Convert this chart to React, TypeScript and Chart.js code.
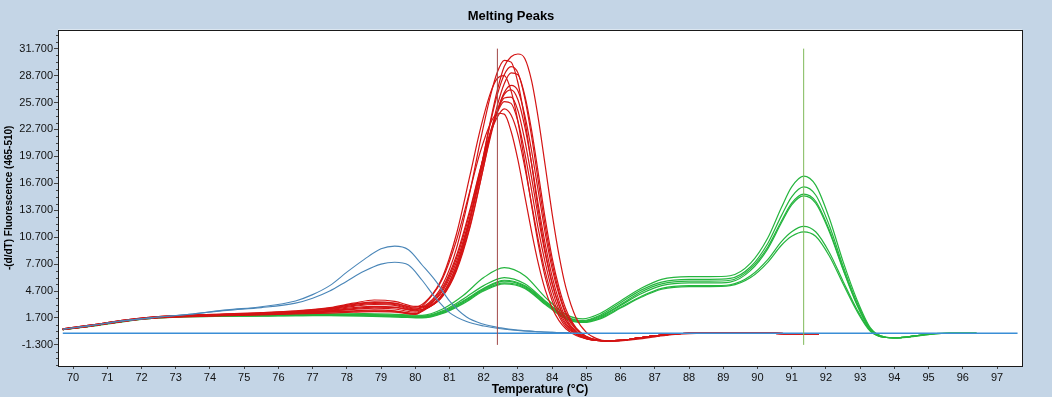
import React, { useEffect, useRef } from "react";
import { Chart, registerables } from "chart.js";

Chart.register(...registerables);

const TITLE = "Melting Peaks";
const X_TITLE = "Temperature (°C)";
const Y_TITLE = "-(d/dT) Fluorescence (465-510)";

const X_TICKS = [70, 71, 72, 73, 74, 75, 76, 77, 78, 79, 80, 81, 82, 83, 84, 85, 86, 87, 88, 89, 90, 91, 92, 93, 94, 95, 96, 97];
const Y_TICKS = [-1.3, 1.7, 4.7, 7.7, 10.7, 13.7, 16.7, 19.7, 22.7, 25.7, 28.7, 31.7];

const markerTemps = [82.4, 91.35];
const markerRange = [-1.3, 31.7];

const baselineTemps = [69.7, 97.6];
const baselineValues = [0, 0];

// red sample set (peak near 82.4-83.1 °C)
const redTemps = [69.7, 70.5, 71.5, 72.5, 73.5, 74.5, 75.5, 76.5, 77.5, 78.2, 78.8, 79.4, 80.0, 80.4, 80.8, 81.2, 81.6, 81.9, 82.2, 82.4, 82.6, 82.8, 83.0, 83.2, 83.4, 83.6, 83.8, 84.0, 84.2, 84.4, 84.7, 85.0, 85.3, 85.6, 86.0, 86.5, 87.0, 87.5, 88.0, 89.0, 90.0, 91.0, 91.8];
const red1 = [0.45, 0.85, 1.4, 1.8, 2.0, 2.1, 2.2, 2.4, 2.65, 3.0, 3.2, 3.1, 2.6, 2.9, 4.2, 7.2, 12.5, 17.9, 23.7, 27.1, 29.7, 30.8, 31.1, 30.6, 28.1, 23.8, 18.6, 13.3, 8.7, 5.1, 1.7, 0.1, -0.6, -0.85, -0.85, -0.65, -0.4, -0.15, -0.05, 0, 0, -0.05, -0.05];
const red2 = [0.5, 0.9, 1.45, 1.85, 2.0, 2.1, 2.25, 2.45, 2.8, 3.25, 3.5, 3.35, 2.8, 3.4, 5.4, 9.4, 15.8, 21.4, 26.5, 29.1, 30.4, 30.2, 27.9, 23.8, 18.8, 13.6, 9.1, 5.6, 3.1, 1.4, 0.1, -0.55, -0.8, -0.85, -0.8, -0.55, -0.3, -0.1, 0, 0, 0, -0.05, -0.05];
const red3 = [0.45, 0.8, 1.35, 1.75, 1.95, 2.05, 2.15, 2.3, 2.45, 2.65, 2.8, 2.7, 2.35, 3.0, 4.4, 7.5, 12.8, 18.1, 23.5, 26.6, 28.8, 29.7, 29.0, 26.2, 21.9, 16.8, 11.9, 7.8, 4.6, 2.3, 0.5, -0.4, -0.75, -0.85, -0.8, -0.55, -0.3, -0.1, 0, 0, 0, -0.05, -0.05];
const red4 = [0.4, 0.85, 1.4, 1.8, 1.95, 2.05, 2.15, 2.35, 2.55, 2.85, 3.0, 2.9, 2.5, 2.9, 4.1, 6.9, 11.8, 16.8, 22.2, 25.4, 27.8, 29.0, 28.8, 26.5, 22.6, 17.7, 12.7, 8.4, 5.1, 2.7, 0.6, -0.35, -0.75, -0.85, -0.8, -0.55, -0.3, -0.1, 0, 0, 0, -0.05, -0.05];
const red5 = [0.45, 0.8, 1.35, 1.75, 1.9, 2.0, 2.1, 2.25, 2.4, 2.5, 2.6, 2.5, 2.2, 2.9, 4.2, 7.1, 12.0, 16.9, 21.9, 24.8, 26.8, 27.6, 27.0, 24.3, 20.3, 15.7, 11.1, 7.2, 4.3, 2.1, 0.4, -0.4, -0.75, -0.85, -0.8, -0.55, -0.3, -0.1, 0, 0, 0, -0.05, -0.05];
const red6 = [0.5, 0.9, 1.45, 1.85, 2.05, 2.15, 2.3, 2.5, 2.85, 3.35, 3.7, 3.55, 3.0, 3.0, 4.4, 7.5, 12.6, 17.4, 22.2, 24.8, 26.6, 27.1, 26.0, 23.0, 18.9, 14.2, 9.9, 6.3, 3.6, 1.7, 0.2, -0.5, -0.8, -0.85, -0.8, -0.55, -0.3, -0.1, 0, 0, 0, -0.05, -0.05];
const red7 = [0.4, 0.8, 1.35, 1.75, 1.9, 2.0, 2.1, 2.2, 2.35, 2.45, 2.5, 2.45, 2.15, 3.1, 4.7, 7.9, 13.0, 17.8, 22.3, 24.7, 26.2, 26.3, 24.8, 21.5, 17.3, 12.8, 8.8, 5.5, 3.1, 1.4, 0.1, -0.55, -0.8, -0.85, -0.8, -0.55, -0.3, -0.1, 0, 0, 0, -0.05, -0.05];
const red8 = [0.45, 0.85, 1.4, 1.8, 2.0, 2.1, 2.2, 2.4, 2.7, 3.1, 3.3, 3.2, 2.7, 3.2, 4.9, 8.3, 13.5, 18.2, 22.5, 24.6, 25.8, 25.6, 23.6, 20.1, 15.9, 11.5, 7.8, 4.8, 2.6, 1.1, 0.0, -0.6, -0.8, -0.85, -0.8, -0.55, -0.3, -0.1, 0, 0, 0, -0.05, -0.05];
const red9 = [0.4, 0.8, 1.35, 1.7, 1.85, 1.95, 2.05, 2.15, 2.25, 2.35, 2.4, 2.35, 2.1, 3.3, 5.1, 8.6, 13.8, 18.3, 22.3, 24.1, 25.0, 24.3, 22.1, 18.5, 14.4, 10.3, 6.8, 4.1, 2.2, 0.9, -0.1, -0.6, -0.8, -0.85, -0.8, -0.55, -0.3, -0.1, 0, 0, 0, -0.05, -0.05];
const red10 = [0.45, 0.85, 1.4, 1.8, 1.95, 2.05, 2.15, 2.3, 2.5, 2.75, 2.9, 2.85, 2.6, 3.8, 6.1, 10.3, 15.9, 20.2, 23.4, 24.5, 24.4, 22.5, 19.3, 15.3, 11.3, 7.7, 4.8, 2.8, 1.4, 0.5, -0.25, -0.6, -0.8, -0.85, -0.8, -0.55, -0.3, -0.1, 0, 0, 0, -0.05, -0.05];
const red11 = [0.5, 0.9, 1.45, 1.85, 2.0, 2.1, 2.2, 2.4, 2.75, 3.2, 3.4, 3.3, 2.9, 3.9, 6.3, 11.0, 17.6, 22.7, 26.8, 28.4, 28.7, 27.0, 23.6, 19.0, 14.2, 9.8, 6.2, 3.6, 1.9, 0.7, -0.1, -0.6, -0.8, -0.85, -0.8, -0.55, -0.3, -0.1, 0, 0, 0, -0.05, -0.05];

// green sample set (peaks near 82.6 and 91.35 °C)
const greenTemps = [69.7, 70.5, 71.5, 72.5, 73.5, 74.5, 75.5, 76.5, 77.5, 78.5, 79.5, 80.2, 80.8, 81.4, 82.0, 82.6, 83.2, 83.8, 84.4, 84.9, 85.4, 86.0, 86.6, 87.2, 88.0, 88.6, 89.2, 89.8, 90.3, 90.7, 91.0, 91.35, 91.7, 92.1, 92.5, 92.9, 93.3, 93.7, 94.1, 94.6, 95.1, 95.6, 96.4];
const green1 = [0.45, 0.85, 1.4, 1.8, 1.95, 2.0, 2.05, 2.1, 2.15, 2.2, 2.1, 2.0, 2.7, 4.2, 6.2, 7.3, 6.4, 4.0, 2.1, 1.6, 2.2, 3.6, 5.0, 6.0, 6.3, 6.3, 6.4, 7.8, 10.6, 14.0, 16.3, 17.5, 16.5, 12.8, 8.0, 3.8, 0.6, -0.4, -0.55, -0.35, -0.1, 0.0, 0.0];
const green2 = [0.4, 0.8, 1.35, 1.75, 1.9, 1.95, 2.0, 2.05, 2.1, 2.1, 2.0, 1.9, 2.5, 3.8, 5.3, 6.2, 5.5, 3.6, 1.9, 1.4, 2.0, 3.4, 4.8, 5.7, 6.0, 6.0, 6.1, 7.4, 10.0, 13.1, 15.2, 16.3, 15.4, 12.0, 7.5, 3.5, 0.5, -0.4, -0.5, -0.3, -0.1, 0.0, 0.0];
const green3 = [0.45, 0.85, 1.4, 1.75, 1.9, 1.95, 2.0, 2.0, 2.05, 2.05, 1.95, 1.85, 2.4, 3.6, 5.0, 5.9, 5.3, 3.5, 1.8, 1.35, 1.9, 3.2, 4.6, 5.5, 5.8, 5.8, 5.9, 7.2, 9.6, 12.5, 14.5, 15.5, 14.7, 11.5, 7.2, 3.3, 0.4, -0.45, -0.5, -0.3, -0.05, 0.0, 0.0];
const green4 = [0.4, 0.8, 1.35, 1.7, 1.85, 1.9, 1.95, 1.95, 2.0, 2.0, 1.9, 1.8, 2.3, 3.4, 4.8, 5.6, 5.1, 3.3, 1.7, 1.3, 1.8, 3.1, 4.4, 5.3, 5.6, 5.6, 5.7, 7.0, 9.4, 12.3, 14.3, 15.3, 14.5, 11.3, 7.1, 3.2, 0.4, -0.45, -0.5, -0.3, -0.05, 0.0, 0.0];
const green5 = [0.45, 0.8, 1.35, 1.75, 1.9, 1.95, 1.95, 2.0, 2.0, 1.95, 1.85, 1.75, 2.3, 3.5, 4.9, 5.8, 5.2, 3.4, 1.7, 1.25, 1.7, 2.9, 4.1, 5.0, 5.3, 5.3, 5.4, 6.4, 8.2, 10.2, 11.3, 11.9, 11.3, 9.0, 5.8, 2.7, 0.3, -0.45, -0.5, -0.3, -0.05, 0.0, 0.0];
const green6 = [0.4, 0.75, 1.3, 1.7, 1.85, 1.9, 1.9, 1.95, 1.95, 1.9, 1.8, 1.7, 2.2, 3.3, 4.7, 5.5, 5.0, 3.2, 1.6, 1.2, 1.6, 2.8, 4.0, 4.9, 5.2, 5.2, 5.3, 6.2, 7.9, 9.8, 10.8, 11.3, 10.8, 8.6, 5.5, 2.5, 0.2, -0.45, -0.5, -0.3, -0.05, 0.0, 0.0];

// blue sample set (peak near 79.4 °C)
const blueTemps = [69.7, 70.5, 71.5, 72.5, 73.5, 74.5, 75.5, 76.5, 77.0, 77.5, 78.0, 78.5, 79.0, 79.4, 79.8, 80.2, 80.6, 81.0, 81.5, 82.0, 82.5, 83.0, 83.5, 84.0, 84.5];
const blue1 = [0.45, 0.85, 1.4, 1.8, 2.15, 2.6, 2.95, 3.6, 4.3, 5.3, 6.8, 8.2, 9.4, 9.7, 9.3, 7.6, 5.8, 3.6, 1.8, 1.0, 0.6, 0.35, 0.2, 0.1, 0.05];
const blue2 = [0.45, 0.85, 1.4, 1.8, 2.15, 2.55, 2.85, 3.35, 3.9, 4.7, 5.8, 6.9, 7.7, 7.9, 7.6, 5.9, 3.9, 2.3, 1.3, 0.8, 0.5, 0.3, 0.2, 0.1, 0.05];

const BG = "#C4D5E6";
const FONT = "'Liberation Sans', Arial, sans-serif";
const RED = "#D41414";
const GREEN = "#25B53E";
const BLUE = "#4A86B8";
const BASE_BLUE = "#3A8ED6";

export default function App() {
  const ref = useRef<HTMLCanvasElement | null>(null);

  useEffect(() => {
    document.body.style.margin = "0";
    const canvas = ref.current;
    if (!canvas) return;

    const series = (temps: number[], vals: number[], color: string, width: number) => ({
      data: temps.map((t, i) => ({ x: t, y: vals[i] })),
      borderColor: color,
      borderWidth: width,
      pointRadius: 0,
      fill: false,
      cubicInterpolationMode: "monotone" as const,
    });

    const reds = [red1, red2, red3, red4, red5, red6, red7, red8, red9, red10, red11];
    const greens = [green1, green2, green3, green4, green5, green6];
    const blues = [blue1, blue2];

    const datasets: any[] = [
      {
        data: [{ x: markerTemps[0], y: markerRange[0] }, { x: markerTemps[0], y: markerRange[1] }],
        borderColor: "#A04848", borderWidth: 1, pointRadius: 0, fill: false,
      },
      {
        data: [{ x: markerTemps[1], y: markerRange[0] }, { x: markerTemps[1], y: markerRange[1] }],
        borderColor: "#7FBA5A", borderWidth: 1, pointRadius: 0, fill: false,
      },
      series(baselineTemps, baselineValues, BASE_BLUE, 1.5),
      ...blues.map((v) => series(blueTemps, v, BLUE, 1.1)),
      ...reds.map((v) => series(redTemps, v, RED, 1.2)),
      ...greens.map((v) => series(greenTemps, v, GREEN, 1.2)),
    ];

    const framePlugin = {
      id: "frame",
      beforeDraw(chart: any) {
        const { ctx, chartArea: a } = chart;
        ctx.save();
        ctx.fillStyle = BG;
        ctx.fillRect(0, 0, chart.width, chart.height);
        ctx.fillStyle = "#FFFFFF";
        ctx.fillRect(a.left, a.top, a.right - a.left, a.bottom - a.top);
        ctx.restore();
      },
      afterDraw(chart: any) {
        const { ctx, chartArea: a } = chart;
        const ys = chart.scales.y;
        ctx.save();
        ctx.strokeStyle = "#1A1A1A";
        ctx.lineWidth = 1;
        ctx.strokeRect(Math.round(a.left) + 0.5, Math.round(a.top) + 0.5, Math.round(a.right - a.left), Math.round(a.bottom - a.top));
        ctx.strokeStyle = "#444";
        ctx.beginPath();
        for (let k = -3; k < 50; k++) {
          const v = Y_TICKS[0] + k * 0.75;
          if (v < ys.min || v > ys.max) continue;
          if (k % 4 === 0) continue;
          const py = Math.round(ys.getPixelForValue(v)) + 0.5;
          ctx.moveTo(a.left - 2, py);
          ctx.lineTo(a.left, py);
        }
        ctx.stroke();
        ctx.restore();
      },
    };

    const chart = new Chart(canvas, {
      type: "line",
      data: { datasets },
      plugins: [framePlugin],
      options: {
        animation: false,
        responsive: true,
        maintainAspectRatio: false,
        layout: { padding: { left: 0, right: 30, top: 0, bottom: 0 } },
        plugins: {
          legend: { display: false },
          tooltip: { enabled: false },
          title: {
            display: true,
            text: TITLE,
            color: "#000",
            font: { family: FONT, size: 13, weight: "bold" },
            padding: { top: 9, bottom: 5 },
          },
        },
        scales: {
          x: {
            type: "linear",
            min: 69.56,
            max: 97.73,
            afterFit: (s: any) => { s.height = 31; },
            afterBuildTicks: (s: any) => { s.ticks = X_TICKS.map((v) => ({ value: v })); },
            ticks: {
              color: "#111",
              font: { family: FONT, size: 11 },
              padding: 2,
              maxRotation: 0,
              autoSkip: false,
              callback: (v: any) => String(v),
            },
            grid: { display: true, drawOnChartArea: false, drawTicks: true, tickLength: 3, color: "#444" },
            border: { display: false },
            title: {
              display: true,
              text: X_TITLE,
              color: "#000",
              font: { family: FONT, size: 12, weight: "bold" },
              padding: { top: 0, bottom: 0 },
            },
          },
          y: {
            type: "linear",
            min: -3.65,
            max: 33.82,
            afterFit: (s: any) => { s.width = 58; },
            afterBuildTicks: (s: any) => { s.ticks = Y_TICKS.map((v) => ({ value: v })); },
            ticks: {
              color: "#111",
              font: { family: FONT, size: 11 },
              padding: 1,
              autoSkip: false,
              callback: (v: any) => Number(v).toFixed(3),
            },
            grid: { display: true, drawOnChartArea: false, drawTicks: true, tickLength: 4, color: "#444" },
            border: { display: false },
            title: {
              display: true,
              text: Y_TITLE,
              color: "#000",
              font: { family: FONT, size: 10, weight: "bold" },
              padding: { top: 3, bottom: 0 },
            },
          },
        },
      } as any,
    });

    return () => chart.destroy();
  }, []);

  return (
    <div style={{ width: 1052, height: 397, background: BG, position: "relative" }}>
      <canvas ref={ref} />
    </div>
  );
}
